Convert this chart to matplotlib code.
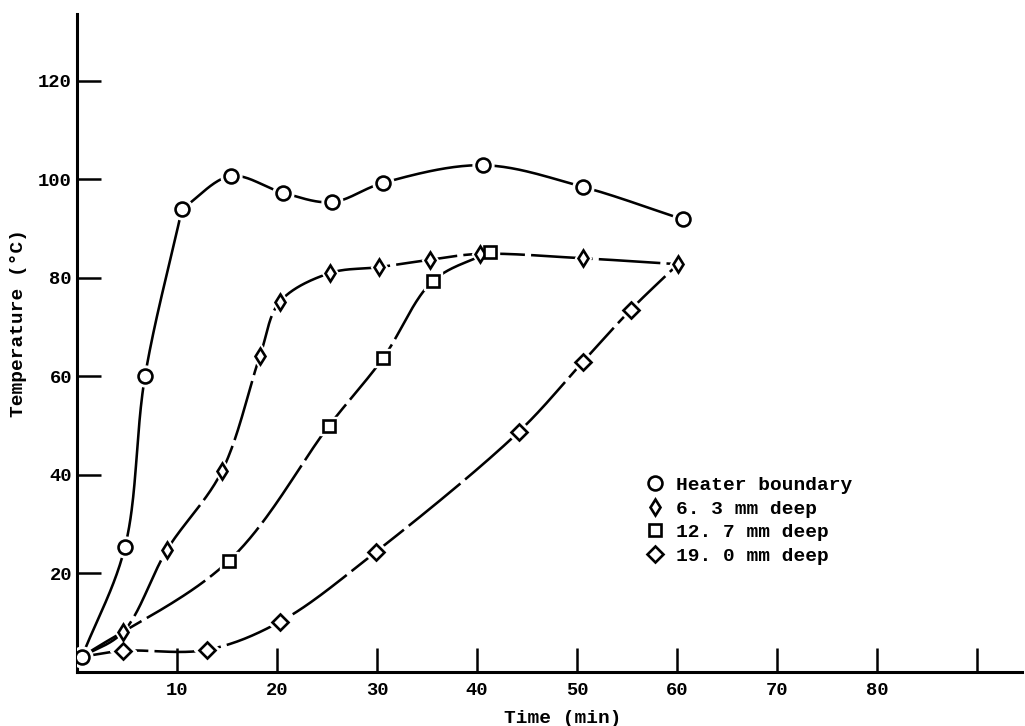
import numpy as np
import matplotlib
matplotlib.use("Agg")
import matplotlib.pyplot as plt

# temperature readings (time in min, temperature in deg C)
heater_t = [0.5, 4.8, 6.8, 10.5, 15.4, 20.6, 25.5, 30.6, 40.6, 50.6, 60.6]
heater_T = [3.1, 25.4, 60.0, 94.0, 100.7, 97.3, 95.4, 99.3, 102.9, 98.5, 91.9]

d63_t = [0.5, 4.6, 9.0, 14.5, 18.3, 20.3, 25.3, 30.2, 35.3, 40.3, 50.6, 60.1]
d63_T = [3.1, 8.1, 24.8, 40.8, 64.2, 75.2, 81.0, 82.2, 83.7, 84.9, 84.0, 82.8]

d127_t = [0.5, 15.2, 25.2, 30.6, 35.6, 41.3]
d127_T = [3.1, 22.6, 50.0, 63.7, 79.4, 85.3]

d190_t = [0.5, 4.6, 13.0, 20.3, 29.9, 44.2, 50.6, 55.4, 60.1]
d190_T = [3.1, 4.3, 4.5, 10.2, 24.4, 48.8, 63.0, 73.6, 82.8]

labels = ["Heater boundary", "6. 3 mm deep", "12. 7 mm deep", "19. 0 mm deep"]

x_ticks = [10, 20, 30, 40, 50, 60, 70, 80, 90]
x_ticklabels = ["10", "20", "30", "40", "50", "60", "70", "80", ""]
y_ticks = [20, 40, 60, 80, 100, 120]

FONT = "Liberation Mono"


def catmull_rom(P, n=40):
    # centripetal Catmull-Rom through the points P (display coords)
    P = np.vstack([2 * P[0] - P[1], P, 2 * P[-1] - P[-2]])
    out = []
    for i in range(1, len(P) - 2):
        p0, p1, p2, p3 = P[i - 1:i + 3]
        t0 = 0.0
        t1 = t0 + np.linalg.norm(p1 - p0) ** 0.5
        t2 = t1 + np.linalg.norm(p2 - p1) ** 0.5
        t3 = t2 + np.linalg.norm(p3 - p2) ** 0.5
        t = np.linspace(t1, t2, n)[:, None]
        a1 = (t1 - t) / (t1 - t0) * p0 + (t - t0) / (t1 - t0) * p1
        a2 = (t2 - t) / (t2 - t1) * p1 + (t - t1) / (t2 - t1) * p2
        a3 = (t3 - t) / (t3 - t2) * p2 + (t - t2) / (t3 - t2) * p3
        b1 = (t2 - t) / (t2 - t0) * a1 + (t - t0) / (t2 - t0) * a2
        b2 = (t3 - t) / (t3 - t1) * a2 + (t - t1) / (t3 - t1) * a3
        c = (t2 - t) / (t2 - t1) * b1 + (t - t1) / (t2 - t1) * b2
        out.append(c if i == 1 else c[1:])
    return np.vstack(out)


def smooth(ax, x, y, corners=()):
    # smooth curve through the readings, with sharp corners at given indices
    P = ax.transData.transform(np.column_stack([x, y]))
    cuts = [0] + list(corners) + [len(P) - 1]
    parts = []
    for a, b in zip(cuts[:-1], cuts[1:]):
        seg = catmull_rom(P[a:b + 1])
        parts.append(seg if not parts else seg[1:])
    xy = ax.transData.inverted().transform(np.vstack(parts))
    return xy[:, 0], xy[:, 1]


fig = plt.figure(figsize=(10.25, 7.26), dpi=100)
ax = fig.add_axes([0.0751, 0.0744, 0.9219, 0.9063])
ax.set_xlim(0, 94.5)
ax.set_ylim(0, 133.6)

series = [
    (heater_t, heater_T, "o", 10.0, "-", list(range(len(heater_t))), (3,)),
    (d63_t, d63_T, "d", 8.4, (0, (24, 2.4)), list(range(1, len(d63_t))), ()),
    (d127_t, d127_T, "s", 8.6, (0, (27, 2.4)), list(range(1, len(d127_t))), ()),
    (d190_t, d190_T, "D", 8.4, (0, (26, 2.4)), list(range(1, len(d190_t) - 1)), ()),
]

for (t, T, m, ms, ls, every, corners), lab in zip(series, labels):
    xs, ys = smooth(ax, t, T, corners)
    ax.plot(xs, ys, color="black", lw=1.85, ls=ls, solid_capstyle="round", zorder=2)
    tm = np.asarray(t)[every]
    Tm = np.asarray(T)[every]
    # white halo so the curve stops short of each marker
    ax.plot(tm, Tm, ls="none", marker=m, ms=ms + 5, mfc="white", mec="white", zorder=3)
    ax.plot(tm, Tm, ls="none", marker=m, ms=ms, mfc="white", mec="black", mew=1.9,
            zorder=4, label=lab)

for side in ["top", "right"]:
    ax.spines[side].set_visible(False)
for side in ["left", "bottom"]:
    ax.spines[side].set_linewidth(2.2)

ax.set_xticks(x_ticks)
ax.set_xticklabels(x_ticklabels)
ax.set_yticks(y_ticks)
ax.tick_params(direction="in", length=17, width=1.8, colors="black")
ax.tick_params(axis="x", pad=7)
ax.tick_params(axis="y", pad=3.6)
for lbl in ax.get_xticklabels() + ax.get_yticklabels():
    lbl.set_fontfamily(FONT)
    lbl.set_fontweight("bold")
    lbl.set_fontsize(13.5)

ax.set_xlabel("Time (min)", fontfamily=FONT, fontweight="bold", fontsize=14)
ax.xaxis.set_label_coords(0.514, -0.058)
ax.set_ylabel("Temperature (°C)", fontfamily=FONT, fontweight="bold", fontsize=14)
ax.yaxis.set_label_coords(-0.053, 0.530)

ax.legend(loc="upper left", bbox_to_anchor=(0.601, 0.297), frameon=False,
          borderpad=0, borderaxespad=0, handlelength=1.0, handletextpad=0.6,
          labelspacing=0.3, numpoints=1,
          prop={"family": FONT, "weight": "bold", "size": 14})

fig.savefig("out.png", dpi=100)
